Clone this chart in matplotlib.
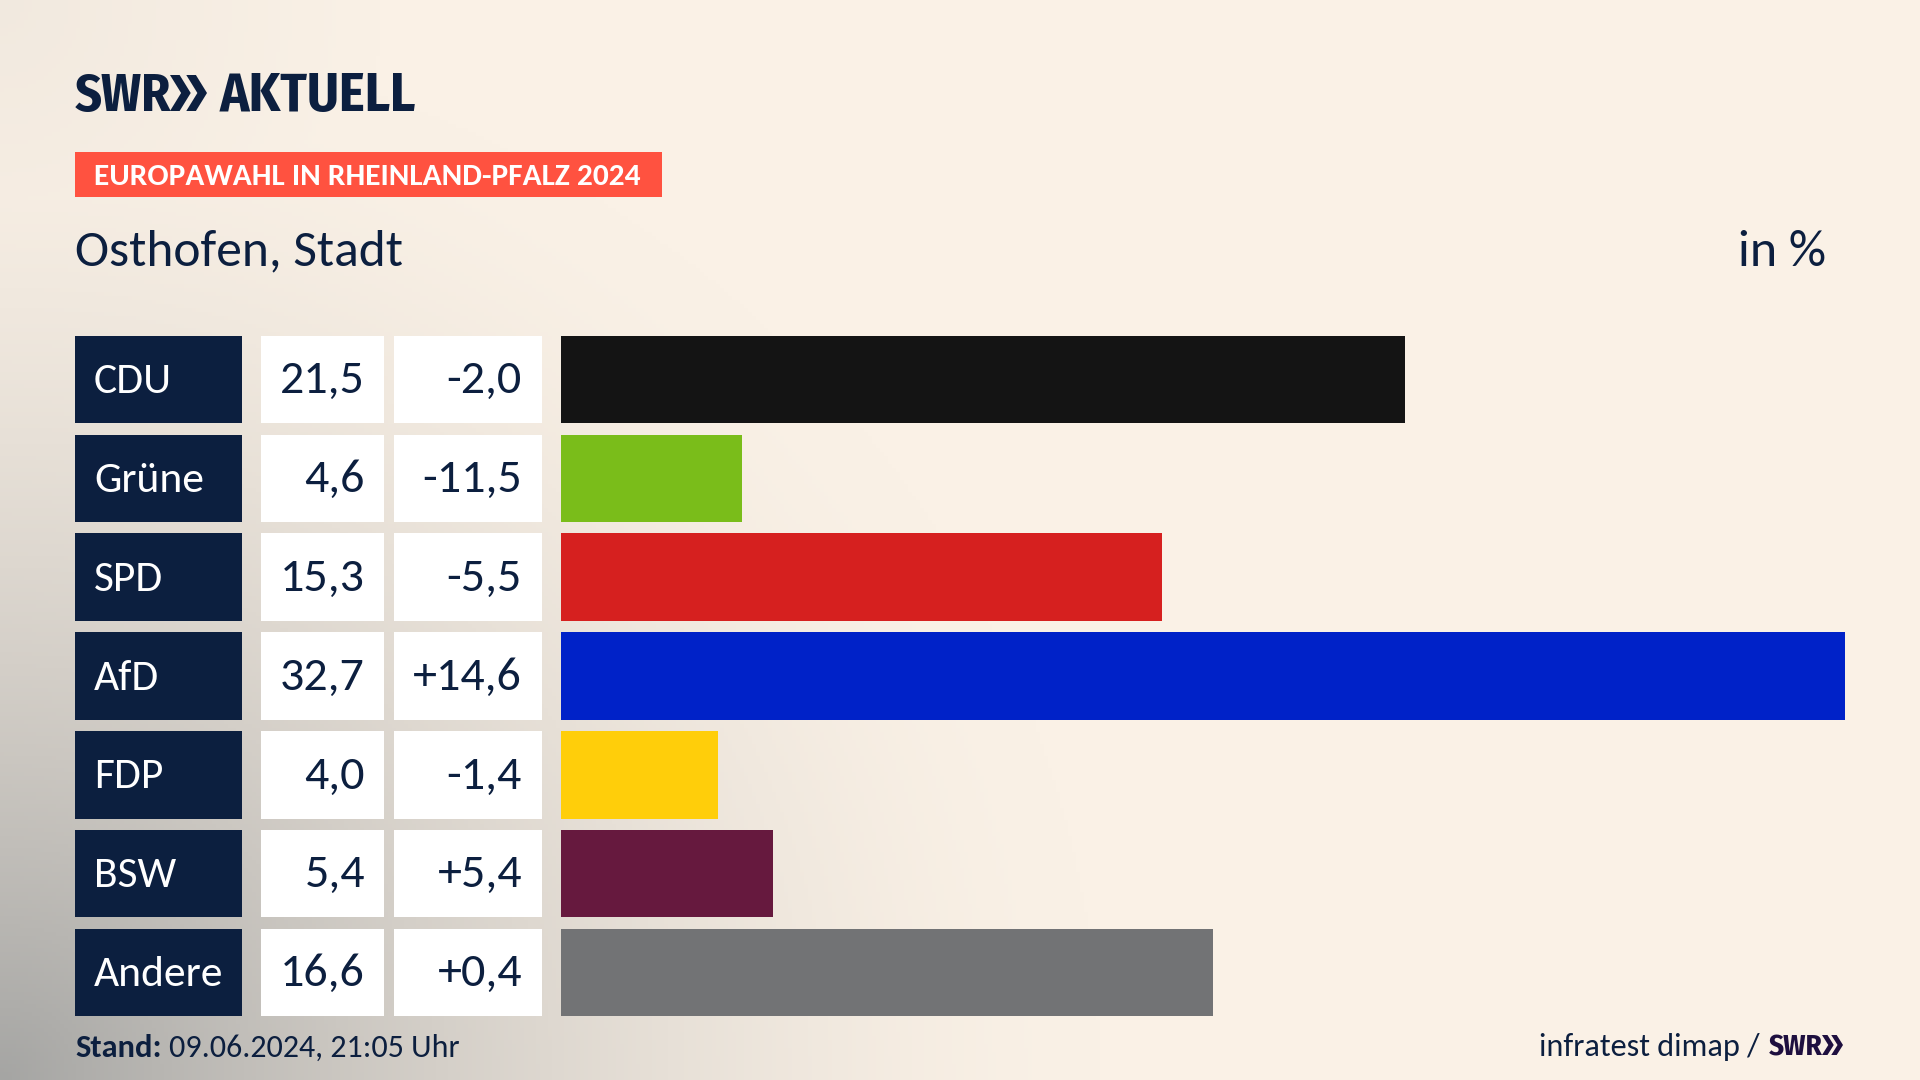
import matplotlib
matplotlib.use("Agg")
import matplotlib.pyplot as plt
import numpy as np
from matplotlib.patches import Polygon, Rectangle

# Data
parties = ["CDU", "Grüne", "SPD", "AfD", "FDP", "BSW", "Andere"]
shares = [21.5, 4.6, 15.3, 32.7, 4.0, 5.4, 16.6]
changes = [-2.0, -11.5, -5.5, 14.6, -1.4, 5.4, 0.4]
bar_colors = ["#141414", "#7ABD1A", "#D6201F", "#0022C8", "#FFCE0A", "#66193E", "#727375"]

NAVY = "#0C1F3F"
FONT = ["Carlito", "PT Sans", "Lato"]
NARROW = ["Fira Sans Condensed", "Lato"]
ROW_TOP = 335.8
ROW_PITCH = 98.8
ROW_H = 87.5


def px(size):
    return size * 0.72


def chevrons(ax, x, top, bottom, width, color):
    # two arrow heads of the SWR logo
    mid = (top + bottom) / 2
    w = width * 0.56
    t = width * 0.26
    for off in (0, width - w):
        ax.add_patch(Polygon([(x + off, top), (x + off + t, top), (x + off + w, mid),
                              (x + off + t, bottom), (x + off, bottom), (x + off + w - t, mid)],
                             closed=True, color=color, lw=0))


fig = plt.figure(figsize=(19.2, 10.8), dpi=100)
bg = fig.add_axes([0, 0, 1, 1])
bg.axis("off")

# background: cream with grey corner glow
xx, yy = np.meshgrid(np.linspace(0, 1920, 480), np.linspace(0, 1080, 270))
cream = np.array([250, 241, 230]) / 255
grey = np.array([165, 165, 163]) / 255
d = np.sqrt((xx / 1100) ** 2 + ((1080 - yy) / 1050) ** 2)
t = np.clip(1 - d, 0, 1) ** 1.6
d2 = np.sqrt((xx / 380) ** 2 + (yy / 420) ** 2)
t = np.maximum(t, 0.1 * np.clip(1 - d2, 0, 1))
img = cream[None, None, :] + (grey - cream)[None, None, :] * t[:, :, None]
bg.imshow(img, extent=(0, 1920, 1080, 0), aspect="auto", zorder=0)
bg.set_xlim(0, 1920)
bg.set_ylim(1080, 0)

# logo
bg.text(75, 111, "SWR", family=NARROW, fontweight="bold", fontsize=px(52), color=NAVY, va="baseline")
chevrons(bg, 170, 75, 111, 37, NAVY)
bg.text(220, 111, "AKTUELL", family=NARROW, fontweight="bold", fontsize=px(54.5), color=NAVY, va="baseline")

# header
bg.add_patch(Rectangle((75, 152), 587, 45, color="#FF5240", lw=0, zorder=2))
bg.text(94, 185, "EUROPAWAHL IN RHEINLAND-PFALZ 2024", family=FONT, fontweight="bold",
        fontsize=px(31.4), color="white", va="baseline", zorder=3)
bg.text(75, 265, "Osthofen, Stadt", family=FONT, fontsize=px(51.5), color=NAVY, va="baseline")
bg.text(1826, 265.5, "in %", family=FONT, fontsize=px(52), color=NAVY, va="baseline", ha="right")

# table columns
for i, (party, share, change) in enumerate(zip(parties, shares, changes)):
    top = ROW_TOP + ROW_PITCH * i
    base = top + 57.5
    bg.add_patch(Rectangle((75, top), 167, ROW_H, color=NAVY, lw=0, zorder=2))
    bg.add_patch(Rectangle((261, top), 123, ROW_H, color="white", lw=0, zorder=2))
    bg.add_patch(Rectangle((394, top), 148, ROW_H, color="white", lw=0, zorder=2))
    bg.text(94, base, party, family=FONT, fontsize=px(43.5), color="white", va="baseline", zorder=3)
    bg.text(365, base, f"{share:.1f}".replace(".", ","), family=FONT, fontsize=px(48), color=NAVY,
            va="baseline", ha="right", zorder=3)
    bg.text(522, base, f"{change:+.1f}".replace(".", ","), family=FONT, fontsize=px(48), color=NAVY,
            va="baseline", ha="right", zorder=3)

# bars
n = len(parties)
h = ROW_H / ROW_PITCH
ax_top = ROW_TOP
ax_bottom = ROW_TOP + ROW_PITCH * (n - 1) + ROW_H
ax = fig.add_axes([561 / 1920, 1 - ax_bottom / 1080, (1845 - 561) / 1920, (ax_bottom - ax_top) / 1080])
ax.patch.set_alpha(0)
ax.barh(range(n), shares, height=h, color=bar_colors, linewidth=0)
ax.set_xlim(0, max(shares))
ax.set_ylim(n - 1 + h / 2, -h / 2)
ax.axis("off")

# footer
bg.text(75, 1057, "Stand:", family=FONT, fontweight="bold", fontsize=px(32.5), color=NAVY, va="baseline")
bg.text(169, 1057, "09.06.2024, 21:05 Uhr", family=FONT, fontsize=px(32), color=NAVY, va="baseline")
bg.text(1760, 1056, "infratest dimap /", family=FONT, fontsize=px(32.3), color=NAVY, va="baseline", ha="right")
bg.text(1769, 1055, "SWR", family=NARROW, fontweight="bold", fontsize=px(29), color="#1E0F3F", va="baseline")
chevrons(bg, 1822, 1035, 1055, 21, "#1E0F3F")

fig.savefig("out.png", dpi=100)
